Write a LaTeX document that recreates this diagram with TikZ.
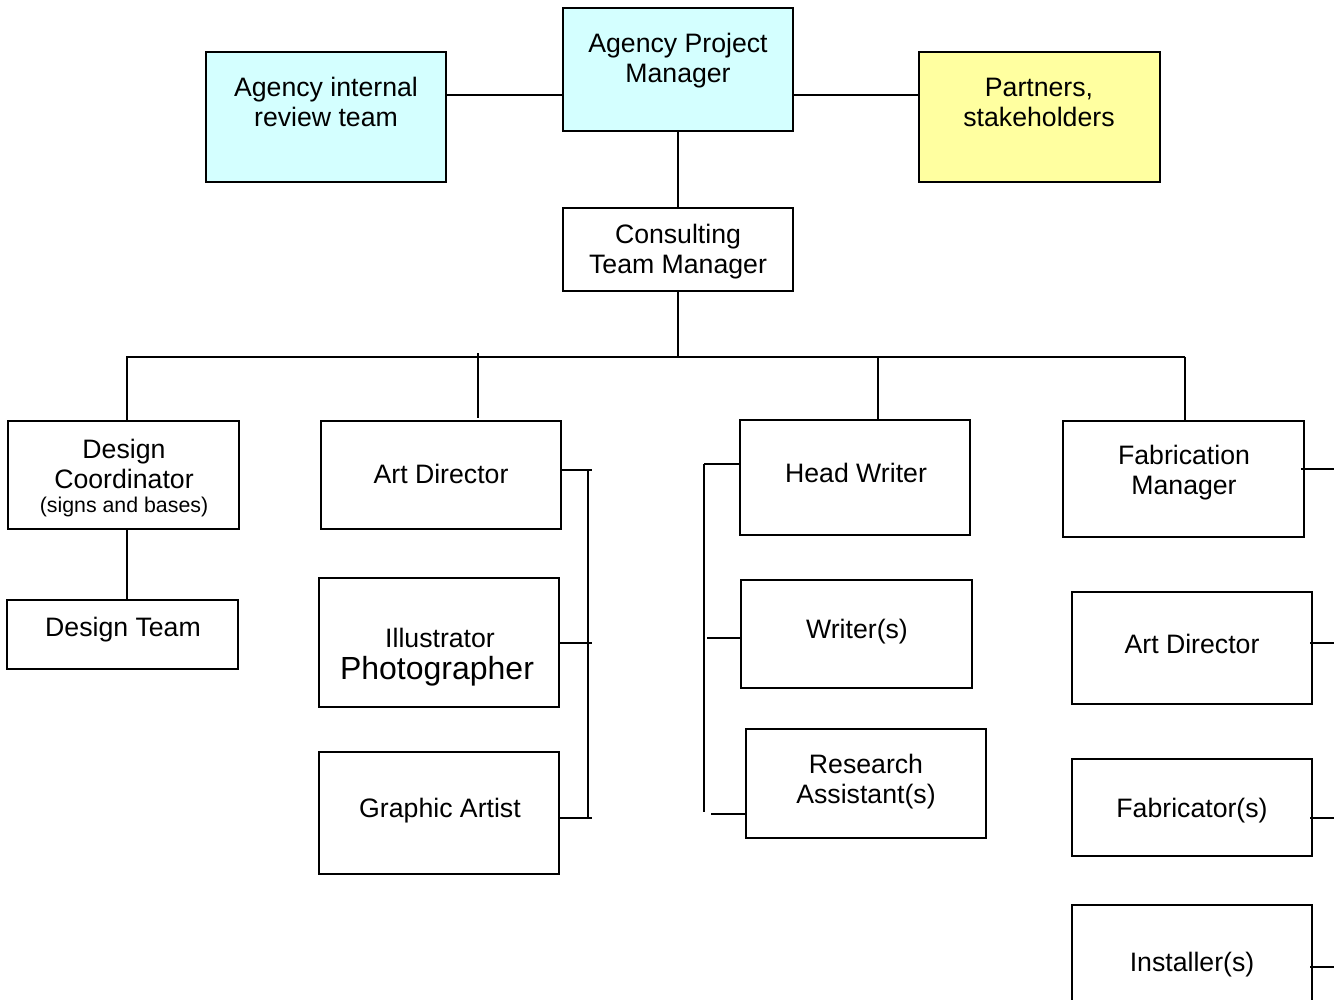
\documentclass[tikz,border=0pt]{standalone}
\usepackage{fontspec}
\setmainfont{Liberation Sans}
\usetikzlibrary{fit}
\definecolor{boxcyan}{RGB}{212,255,255}
\definecolor{boxyellow}{RGB}{255,255,160}
\begin{document}
\begin{tikzpicture}[x=0.75pt,y=-0.75pt,
  box/.style={draw=black,line width=1.5pt,inner sep=0pt,rectangle},
  txt/.style={align=center,inner sep=0pt,font=\fontsize{20}{22.5}\selectfont},
  smalltxt/.style={align=center,inner sep=0pt,font=\fontsize{16}{18}\selectfont},
  bigtxt/.style={align=center,inner sep=0pt,font=\fontsize{24}{27}\selectfont},
  conn/.style={draw=black,line width=1.5pt}]
\useasboundingbox (0,0) rectangle (1334,999);
\clip (0,0) rectangle (1334,999);
% boxes
\node[box,fill=boxcyan,fit={(206,52) (446,182)}] (air) {};
\node[box,fill=boxcyan,fit={(563,8) (793,131)}] (apm) {};
\node[box,fill=boxyellow,fit={(919,52) (1160,182)}] (par) {};
\node[box,fit={(563,208) (793,291)}] (ctm) {};
\node[box,fit={(8,421) (239,529)}] (dc) {};
\node[box,fit={(7,600) (238,669)}] (dt) {};
\node[box,fit={(321,421) (561,529)}] (ad) {};
\node[box,fit={(319,578) (559,707)}] (ip) {};
\node[box,fit={(319,752) (559,874)}] (ga) {};
\node[box,fit={(740,420) (970,535)}] (hw) {};
\node[box,fit={(741,580) (972,688)}] (wr) {};
\node[box,fit={(746,729) (986,838)}] (ra) {};
\node[box,fit={(1063,421) (1304,537)}] (fm) {};
\node[box,fit={(1072,592) (1312,704)}] (ad2) {};
\node[box,fit={(1072,759) (1312,856)}] (fab) {};
\node[box,fit={(1072,905) (1312,1010)}] (ins) {};
% texts
\node[txt] (air-t) at (326,102) {Agency internal\\review team};
\node[txt] (apm-t) at (678,61) {Agency Project\\Manager};
\node[txt] (par-t) at (1039,102) {Partners,\\stakeholders};
\node[txt] (ctm-t) at (678,252) {Consulting\\Team Manager};
\node[txt] (dc-t1) at (124,464) {Design\\Coordinator};
\node[smalltxt] (dc-t2) at (124,507) {(signs and bases)};
\node[txt] (dt-t) at (123,630) {Design Team};
\node[txt] (ad-t) at (441,474) {Art Director};
\node[txt] (ip-t1) at (440,638) {Illustrator};
\node[bigtxt] (ip-t2) at (437,671) {Photographer};
\node[txt] (ga-t) at (440,811) {Graphic Artist};
\node[txt] (hw-t) at (856,473) {Head Writer};
\node[txt] (wr-t) at (857,632) {Writer(s)};
\node[txt] (ra-t) at (866,782) {Research\\Assistant(s)};
\node[txt] (fm-t) at (1184,473) {Fabrication\\Manager};
\node[txt] (ad2-t) at (1192,644) {Art Director};
\node[txt] (fab-t) at (1192,811) {Fabricator(s)};
\node[txt] (ins-t) at (1192,965) {Installer(s)};
% top connectors
\coordinate (topline) at (0,95);
\draw[conn] (air.east |- topline) -- (apm.west |- topline);
\draw[conn] (apm.east |- topline) -- (par.west |- topline);
\draw[conn] (apm.south) -- (ctm.north);
% bus
\coordinate (busL) at (126,356.5);
\coordinate (busR) at (1185,356.5);
\draw[conn] (busL) -- (busR);
\draw[conn] (ctm.south) -- (ctm.south |- busL);
\coordinate (b1) at (127,356.5);
\coordinate (b2) at (478,353);
\coordinate (b3) at (878,356.5);
\coordinate (b4) at (1185,356.5);
\draw[conn] (b1) -- (b1 |- dc.north);
\draw[conn] (b2) -- ([yshift=1.5pt]b2 |- ad.north);
\draw[conn] (b3) -- (b3 |- hw.north);
\draw[conn] (b4) -- (b4 |- fm.north);
\draw[conn] (dc.south -| b1) -- (dt.north -| b1);
% art bracket
\coordinate (ba1) at (592,470);
\coordinate (ba2) at (592,643);
\coordinate (ba3) at (592,818);
\coordinate (bv1) at (588,470);
\coordinate (bv2) at (588,818);
\draw[conn] (ad.east |- ba1) -- (ba1);
\draw[conn] (ip.east |- ba2) -- (ba2);
\draw[conn] (ga.east |- ba3) -- (ba3);
\draw[conn] (bv1) -- (bv2);
% writer bracket
\coordinate (wv1) at (704,464);
\coordinate (wv2) at (704,812);
\coordinate (wh2) at (707,638);
\coordinate (wh3) at (711,814);
\draw[conn] (wv1) -- (wv2);
\draw[conn] (wv1) -- (hw.west |- wv1);
\draw[conn] (wh2) -- (wr.west |- wh2);
\draw[conn] (wh3) -- (ra.west |- wh3);
% right stubs
\coordinate (r1) at (1334,469);
\coordinate (r2) at (1334,643);
\coordinate (r3) at (1334,818);
\coordinate (r4) at (1334,967);
\draw[conn] ([xshift=-3pt]fm.east |- r1) -- (r1);
\draw[conn] ([xshift=-2pt]ad2.east |- r2) -- (r2);
\draw[conn] ([xshift=-2pt]fab.east |- r3) -- (r3);
\draw[conn] ([xshift=-2pt]ins.east |- r4) -- (r4);
\end{tikzpicture}
\end{document}
